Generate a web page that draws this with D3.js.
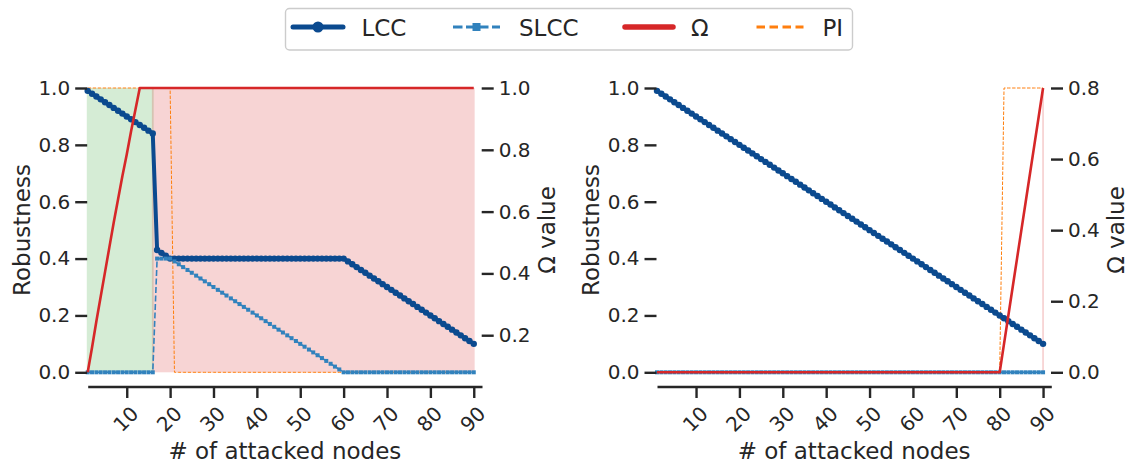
<!DOCTYPE html>
<html>
<head>
<meta charset="utf-8">
<script src="https://cdn.jsdelivr.net/npm/d3@7"></script>
<style>
  body { margin: 0; background: #fff; }
  svg { display: block; font-family: "DejaVu Sans", sans-serif; }
</style>
</head>
<body>
<svg id="chart" width="1133" height="468"></svg>
<script>
// ---- data: robustness under attack, x = number of attacked nodes ----
const attackedNodes = d3.range(1, 91);

const leftLCC = [
  0.99,0.98,0.97,0.96,0.95,0.94,0.93,0.92,0.91,0.90,
  0.89,0.88,0.87,0.86,0.85,0.84,0.43,0.42,0.41,0.40,
  0.40,0.40,0.40,0.40,0.40,0.40,0.40,0.40,0.40,0.40,
  0.40,0.40,0.40,0.40,0.40,0.40,0.40,0.40,0.40,0.40,
  0.40,0.40,0.40,0.40,0.40,0.40,0.40,0.40,0.40,0.40,
  0.40,0.40,0.40,0.40,0.40,0.40,0.40,0.40,0.40,0.40,
  0.39,0.38,0.37,0.36,0.35,0.34,0.33,0.32,0.31,0.30,
  0.29,0.28,0.27,0.26,0.25,0.24,0.23,0.22,0.21,0.20,
  0.19,0.18,0.17,0.16,0.15,0.14,0.13,0.12,0.11,0.10
];
const leftSLCC = [
  0,0,0,0,0,0,0,0,0,0,
  0,0,0,0,0,0,0.40,0.40,0.40,0.40,
  0.39,0.38,0.37,0.36,0.35,0.34,0.33,0.32,0.31,0.30,
  0.29,0.28,0.27,0.26,0.25,0.24,0.23,0.22,0.21,0.20,
  0.19,0.18,0.17,0.16,0.15,0.14,0.13,0.12,0.11,0.10,
  0.09,0.08,0.07,0.06,0.05,0.04,0.03,0.02,0.01,0,
  0,0,0,0,0,0,0,0,0,0,
  0,0,0,0,0,0,0,0,0,0,
  0,0,0,0,0,0,0,0,0,0
];
const leftOmega = [
  0.08,0.16,0.245,0.325,0.405,0.485,0.565,0.64,0.715,0.785,
  0.86,0.93,1,1,1,1,1,1,1,1,
  1,1,1,1,1,1,1,1,1,1,
  1,1,1,1,1,1,1,1,1,1,
  1,1,1,1,1,1,1,1,1,1,
  1,1,1,1,1,1,1,1,1,1,
  1,1,1,1,1,1,1,1,1,1,
  1,1,1,1,1,1,1,1,1,1,
  1,1,1,1,1,1,1,1,1,1
];
const leftPI = [
  1,1,1,1,1,1,1,1,1,1,
  1,1,1,1,1,1,1,1,1,1,
  0,0,0,0,0,0,0,0,0,0,
  0,0,0,0,0,0,0,0,0,0,
  0,0,0,0,0,0,0,0,0,0,
  0,0,0,0,0,0,0,0,0,0,
  0,0,0,0,0,0,0,0,0,0,
  0,0,0,0,0,0,0,0,0,0,
  0,0,0,0,0,0,0,0,0,0
];

const rightLCC = [
  0.99,0.98,0.97,0.96,0.95,0.94,0.93,0.92,0.91,0.90,
  0.89,0.88,0.87,0.86,0.85,0.84,0.83,0.82,0.81,0.80,
  0.79,0.78,0.77,0.76,0.75,0.74,0.73,0.72,0.71,0.70,
  0.69,0.68,0.67,0.66,0.65,0.64,0.63,0.62,0.61,0.60,
  0.59,0.58,0.57,0.56,0.55,0.54,0.53,0.52,0.51,0.50,
  0.49,0.48,0.47,0.46,0.45,0.44,0.43,0.42,0.41,0.40,
  0.39,0.38,0.37,0.36,0.35,0.34,0.33,0.32,0.31,0.30,
  0.29,0.28,0.27,0.26,0.25,0.24,0.23,0.22,0.21,0.20,
  0.19,0.18,0.17,0.16,0.15,0.14,0.13,0.12,0.11,0.10
];
const rightSLCC = [
  0,0,0,0,0,0,0,0,0,0,
  0,0,0,0,0,0,0,0,0,0,
  0,0,0,0,0,0,0,0,0,0,
  0,0,0,0,0,0,0,0,0,0,
  0,0,0,0,0,0,0,0,0,0,
  0,0,0,0,0,0,0,0,0,0,
  0,0,0,0,0,0,0,0,0,0,
  0,0,0,0,0,0,0,0,0,0,
  0,0,0,0,0,0,0,0,0,0
];
const rightOmega = [
  0,0,0,0,0,0,0,0,0,0,
  0,0,0,0,0,0,0,0,0,0,
  0,0,0,0,0,0,0,0,0,0,
  0,0,0,0,0,0,0,0,0,0,
  0,0,0,0,0,0,0,0,0,0,
  0,0,0,0,0,0,0,0,0,0,
  0,0,0,0,0,0,0,0,0,0,
  0,0,0,0,0,0,0,0,0,0,
  0.08,0.16,0.24,0.32,0.40,0.48,0.56,0.64,0.72,0.80
];
const rightPI = [
  0,0,0,0,0,0,0,0,0,0,
  0,0,0,0,0,0,0,0,0,0,
  0,0,0,0,0,0,0,0,0,0,
  0,0,0,0,0,0,0,0,0,0,
  0,0,0,0,0,0,0,0,0,0,
  0,0,0,0,0,0,0,0,0,0,
  0,0,0,0,0,0,0,0,0,0,
  0,0,0,0,0,0,0,0,0,0,
  1,1,1,1,1,1,1,1,1,1
];

// shaded phases: [from, to] in attacked nodes
const leftSafeSpan = [1, 16];
const leftFailSpan = [16, 90];
const rightFailSpan = [90, 90];

const xTicks = [10, 20, 30, 40, 50, 60, 70, 80, 90];
const robustTicks = [0, 0.2, 0.4, 0.6, 0.8, 1.0];
const leftOmegaTicks = [0.2, 0.4, 0.6, 0.8, 1.0];
const rightOmegaTicks = [0, 0.2, 0.4, 0.6, 0.8];
const legendLabels = ["LCC", "SLCC", "Ω", "PI"];

// ---- styling ----
const INK = "#262626";
const C_LCC = "#0b4a8f", C_SLCC = "#3182bd", C_OMEGA = "#d62728", C_PI = "#ff7f0e";
const C_SAFE = "#2ca02c", C_FAIL = "#d62728";

const svg = d3.select("#chart");
const yTop = 88, yBottom = 372.3, spineY = 386.5;

const panels = [
  { x0: 87.7, x1: 482, lcc: leftLCC, slcc: leftSLCC, omega: leftOmega, pi: leftPI,
    omegaTicks: leftOmegaTicks, spans: [[leftSafeSpan, C_SAFE], [leftFailSpan, C_FAIL]] },
  { x0: 657, x1: 1051.3, lcc: rightLCC, slcc: rightSLCC, omega: rightOmega, pi: rightPI,
    omegaTicks: rightOmegaTicks, spans: [[rightFailSpan, C_FAIL]] }
];

panels.forEach(p => {
  const g = svg.append("g");
  const x = d3.scaleLinear().domain([1, 91.9]).range([p.x0, p.x1]);
  const y = d3.scaleLinear().domain([0, 1]).range([yBottom, yTop]);
  const y2 = d3.scaleLinear().domain(d3.extent(p.omega)).range([yBottom, yTop]);

  // shaded phases
  p.spans.forEach(([s, c]) => {
    g.append("rect")
      .attr("x", x(s[0]) - 0.9)
      .attr("width", x(s[1]) - x(s[0]) + 1.8)
      .attr("y", y(1)).attr("height", y(0) - y(1))
      .attr("fill", c).attr("fill-opacity", 0.2);
  });

  const pts = arr => attackedNodes.map((n, i) => ({ n, v: arr[i] }));

  // PI
  g.append("path").datum(pts(p.pi))
    .attr("d", d3.line().x(d => x(d.n)).y(d => y(d.v)))
    .attr("fill", "none").attr("stroke", C_PI)
    .attr("stroke-width", 1).attr("stroke-dasharray", "3.5,1.5");

  // LCC
  g.append("path").datum(pts(p.lcc))
    .attr("d", d3.line().x(d => x(d.n)).y(d => y(d.v)))
    .attr("fill", "none").attr("stroke", C_LCC).attr("stroke-width", 4)
    .attr("stroke-linejoin", "round");
  g.selectAll(null).data(pts(p.lcc)).join("circle")
    .attr("cx", d => x(d.n)).attr("cy", d => y(d.v)).attr("r", 3.2)
    .attr("fill", C_LCC);

  // SLCC
  g.append("path").datum(pts(p.slcc))
    .attr("d", d3.line().x(d => x(d.n)).y(d => y(d.v)))
    .attr("fill", "none").attr("stroke", C_SLCC).attr("stroke-width", 1.6)
    .attr("stroke-dasharray", "6,2.5");
  g.selectAll(null).data(pts(p.slcc)).join("rect")
    .attr("x", d => x(d.n) - 2).attr("y", d => y(d.v) - 2)
    .attr("width", 4).attr("height", 4)
    .attr("fill", C_SLCC);

  // Omega on the twin axis
  g.append("path").datum(pts(p.omega))
    .attr("d", d3.line().x(d => x(d.n)).y(d => y2(d.v)))
    .attr("fill", "none").attr("stroke", C_OMEGA).attr("stroke-width", 2.6)
    .attr("stroke-linejoin", "round");

  // axes
  const styleAxis = sel => {
    sel.selectAll("line").attr("stroke", INK).attr("stroke-width", 2.4);
    sel.selectAll("text").attr("fill", INK).attr("font-size", 20)
      .attr("font-family", "DejaVu Sans");
  };

  const ax = g.append("g").attr("transform", `translate(0,${spineY})`)
    .call(d3.axisBottom(x).tickValues(xTicks).tickSize(11.5).tickSizeOuter(0)
      .tickFormat(d3.format("d")));
  ax.select(".domain").attr("stroke", INK).attr("stroke-width", 2.6);
  styleAxis(ax);
  ax.selectAll(".tick text")
    .attr("y", 0).attr("dy", "0.36em").attr("text-anchor", "middle")
    .attr("transform", "translate(-1.5,32.5) rotate(-45)");

  const ayl = g.append("g").attr("transform", `translate(${p.x0 - 0.5},0)`)
    .call(d3.axisLeft(y).tickValues(robustTicks).tickSize(12).tickPadding(5)
      .tickFormat(d3.format(".1f")));
  ayl.select(".domain").remove();
  styleAxis(ayl);

  const ayr = g.append("g").attr("transform", `translate(${p.x1 - 0.3},0)`)
    .call(d3.axisRight(y2).tickValues(p.omegaTicks).tickSize(12).tickPadding(5)
      .tickFormat(d3.format(".1f")));
  ayr.select(".domain").remove();
  styleAxis(ayr);

  // axis titles
  g.append("text").text("# of attacked nodes")
    .attr("x", (p.x0 + p.x1) / 2).attr("y", 459)
    .attr("text-anchor", "middle").attr("font-size", 23).attr("fill", INK);
  g.append("text").text("Robustness")
    .attr("transform", `translate(${p.x0 - 57.7},230) rotate(-90)`)
    .attr("text-anchor", "middle").attr("font-size", 23).attr("fill", INK);
  g.append("text").text("Ω value")
    .attr("transform", `translate(${p.x1 + 73},230) rotate(-90)`)
    .attr("text-anchor", "middle").attr("font-size", 23).attr("fill", INK);
});

// ---- legend ----
const lg = svg.append("g");
lg.append("rect").attr("x", 285.5).attr("y", 8.5).attr("width", 567).attr("height", 41.5)
  .attr("rx", 4).attr("fill", "#fff").attr("stroke", "#cccccc").attr("stroke-width", 1.4);

const legendY = 27;
const legendItems = [
  { x: 293, textX: 361.5 },
  { x: 453, textX: 519 },
  { x: 623, textX: 691 },
  { x: 756.5, textX: 822.5 }
];
const lw = 50;

// LCC
lg.append("line").attr("x1", legendItems[0].x).attr("x2", legendItems[0].x + lw)
  .attr("y1", legendY).attr("y2", legendY)
  .attr("stroke", C_LCC).attr("stroke-width", 5).attr("stroke-linecap", "round");
lg.append("circle").attr("cx", legendItems[0].x + lw / 2).attr("cy", legendY).attr("r", 5.5)
  .attr("fill", C_LCC);
// SLCC
lg.append("line").attr("x1", legendItems[1].x).attr("x2", legendItems[1].x + 47)
  .attr("y1", legendY).attr("y2", legendY)
  .attr("stroke", C_SLCC).attr("stroke-width", 3).attr("stroke-dasharray", "9.5,3.5");
lg.append("rect").attr("x", legendItems[1].x + 23.5 - 4).attr("y", legendY - 4)
  .attr("width", 8).attr("height", 8).attr("fill", C_SLCC);
// Omega
lg.append("line").attr("x1", legendItems[2].x + 2).attr("x2", legendItems[2].x + lw)
  .attr("y1", legendY).attr("y2", legendY)
  .attr("stroke", C_OMEGA).attr("stroke-width", 5.5).attr("stroke-linecap", "round");
// PI
lg.append("line").attr("x1", legendItems[3].x).attr("x2", legendItems[3].x + 47)
  .attr("y1", legendY).attr("y2", legendY)
  .attr("stroke", C_PI).attr("stroke-width", 3).attr("stroke-dasharray", "8.5,4.5");

legendLabels.forEach((t, i) => {
  lg.append("text").text(t).attr("x", legendItems[i].textX).attr("y", 36)
    .attr("font-size", 23).attr("fill", INK);
});
</script>
</body>
</html>
